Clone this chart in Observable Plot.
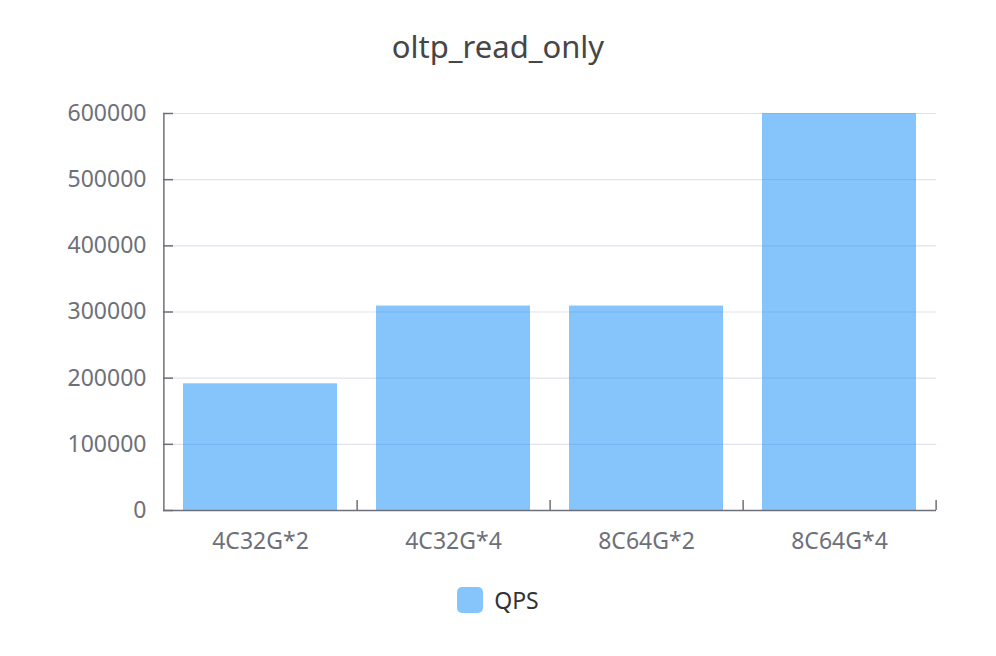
<!DOCTYPE html>
<html>
<head>
<meta charset="utf-8">
<script src="https://cdn.jsdelivr.net/npm/d3@7"></script>
<script src="https://cdn.jsdelivr.net/npm/@observablehq/plot@0.6"></script>
<style>
  body { margin: 0; background: #fff; font-family: "Noto Sans", "Liberation Sans", sans-serif; }
  #wrap { width: 996px; }
  #title { height: 80px; box-sizing: border-box; padding-top: 27px; text-align: center;
           font-size: 31px; line-height: 38px; color: #464646; }
  #legend { height: 40px; display: flex; align-items: center; justify-content: center; gap: 11px;
            font-size: 23px; color: #333; }
  #legend .sw { width: 26px; height: 26px; border-radius: 5px; }
  svg { display: block; }
</style>
</head>
<body>
<div id="wrap">
  <div id="title"></div>
  <div id="chart"></div>
  <div id="legend"></div>
</div>
<script>
// Benchmark: sysbench oltp_read_only, queries per second by cluster size
const chartTitle = "oltp_read_only";
const seriesName = "QPS";
const categories = ["4C32G*2", "4C32G*4", "8C64G*2", "8C64G*4"];
const qps = [191500, 309000, 309000, 600000];
const yTicks = [0, 100000, 200000, 300000, 400000, 500000, 600000];

const rows = categories.map((c, i) => ({config: c, qps: qps[i]}));

// layout
const W = 996, H = 500;
const mL = 163, mR = 60, mT = 33, mB = 70;
const plotW = W - mL - mR, plotH = H - mT - mB;
const step = plotW / categories.length;

const barFill = "#0d8bfa";
const axisColor = "#6E7079";
const gridColor = "#E0E3EE";
const font = "\"Noto Sans\", \"Liberation Sans\", sans-serif";

document.getElementById("title").textContent = chartTitle;

const chart = Plot.plot({
  width: W,
  height: H,
  marginLeft: mL,
  marginRight: mR,
  marginTop: mT,
  marginBottom: mB,
  style: {fontFamily: font, background: "#fff"},
  x: {type: "band", domain: categories, paddingInner: 0.2, paddingOuter: 0.1},
  y: {domain: [0, 600000]},
  marks: [
    Plot.ruleY(yTicks.slice(1), {stroke: gridColor, strokeWidth: 1.2}),
    Plot.barY(rows, {x: "config", y: "qps", fill: barFill, fillOpacity: 0.5}),
    // axis lines
    Plot.ruleY([0], {stroke: axisColor, strokeWidth: 1.5}),
    Plot.ruleX([categories[0]], {x: d => d, dx: -step / 2, stroke: axisColor, strokeWidth: 1.5}),
    // inward ticks
    Plot.tickY(yTicks, {y: d => d, stroke: axisColor, strokeWidth: 1.5, insetRight: plotW - 10}),
    Plot.tickX(categories, {x: d => d, dx: step / 2, stroke: axisColor, strokeWidth: 1.5, insetTop: plotH - 10}),
    Plot.axisY({ticks: yTicks, tickSize: 0, tickPadding: 17, tickFormat: d3.format("d"),
                label: null, fontSize: 23, fill: axisColor}),
    Plot.axisX({tickSize: 0, tickPadding: 22, label: null, fontSize: 23, fill: axisColor})
  ]
});
document.getElementById("chart").append(chart);

const legend = document.getElementById("legend");
const sw = document.createElement("span");
sw.className = "sw";
sw.style.background = d3.color(barFill).copy({opacity: 0.5}).toString();
const lbl = document.createElement("span");
lbl.textContent = seriesName;
legend.append(sw, lbl);
</script>
</body>
</html>
